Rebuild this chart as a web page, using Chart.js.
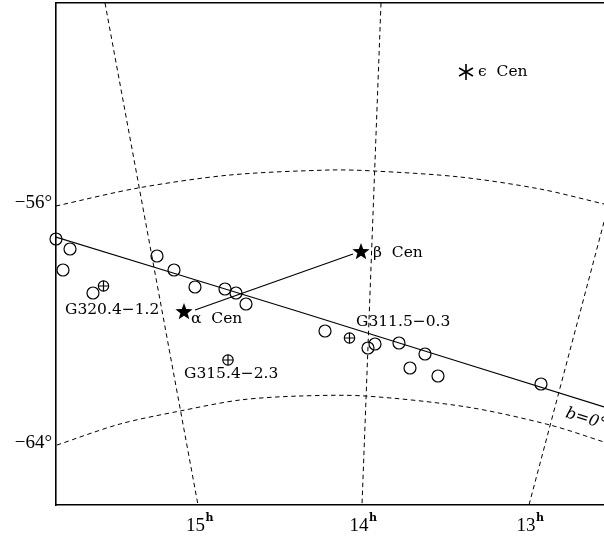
<!DOCTYPE html>
<html><head><meta charset="utf-8">
<style>html,body{margin:0;padding:0;background:#fff}canvas{display:block}</style>
<script src="https://cdn.jsdelivr.net/npm/chart.js@4"></script></head>
<body><canvas id="c" width="604" height="536"></canvas>
<script>
// Plot-plane coordinates (projection has no linear axis)
const remnantX=[56,70,63,93,157,174,195,225,236,246,325,368,375,399,425,410,438,541];
const remnantY=[239,249,270,293,256,270,287,289,293,304,331,348,344,343,354,368,376,384];
const crossedX=[103.5,228,349.5];
const crossedY=[286,360,338];
const brightX=[184,361];
const brightY=[312,252];
const epsX=[466];
const epsY=[72];
const planeX=[56,300,604];
const planeY=[237,312,407];
const linkX=[195,353];
const linkY=[310,254];
const dec56X=[56,138,230,330,374,460,540,604];
const dec56Y=[206,188,175,170,171,177,189,204];
const dec64X=[57,120,180,240,300,365,467,550,604];
const dec64Y=[445,424,411,400,396,396,407,425,442];
const ra15X=[105,198];
const ra15Y=[3,505];
const ra14X=[381,362];
const ra14Y=[3,505];
const ra13X=[604,529];
const ra13Y=[222,505];
const xTickValues=[195.5,359,526];
const xTickLabels=['15','14','13'];
const yTickValues=[203,443];
const yTickLabels=['−56°','−64°'];
const labelTexts=['G320.4−1.2','α  Cen','β  Cen','ϵ  Cen','G315.4−2.3','G311.5−0.3'];
const labelX=[65,191,373,478,184,356];
const labelY=[310,319,253,72,374,322];

const zip=(xs,ys)=>xs.map((x,i)=>({x,y:ys[i]}));
function star5(r){const s=2*r+2,c=document.createElement('canvas');c.width=c.height=s;const g=c.getContext('2d');
  g.translate(s/2,s/2);g.beginPath();
  for(let i=0;i<10;i++){const a=-Math.PI/2+i*Math.PI/5,q=i%2?r*0.42:r;g.lineTo(q*Math.cos(a),q*Math.sin(a));}
  g.closePath();g.fillStyle='#000';g.fill();return c;}
function aster(r){const s=2*r+2,c=document.createElement('canvas');c.width=c.height=s;const g=c.getContext('2d');
  g.translate(s/2,s/2);g.strokeStyle='#000';g.lineWidth=1.6;g.beginPath();
  for(let i=0;i<3;i++){const a=Math.PI/2+i*Math.PI/3;g.moveTo(r*Math.cos(a),r*Math.sin(a));g.lineTo(-r*Math.cos(a),-r*Math.sin(a));}
  g.stroke();return c;}
const solid=(xs,ys)=>({type:'line',data:zip(xs,ys),borderColor:'#000',borderWidth:1.2,pointRadius:0,tension:0.15,fill:false});
const dash=(xs,ys,t)=>({type:'line',data:zip(xs,ys),borderColor:'#000',borderWidth:1,borderDash:[4.5,3.5],pointRadius:0,tension:t,fill:false});
const pts=(xs,ys,style,r,extra)=>Object.assign({type:'scatter',data:zip(xs,ys),pointStyle:style,pointRadius:r,pointBorderColor:'#000',pointBackgroundColor:'rgba(0,0,0,0)',pointBorderWidth:1.2,clip:false,showLine:false},extra||{});
const noPad=s=>{s.paddingLeft=s.paddingRight=s.paddingTop=s.paddingBottom=0;};

const textPlugin={id:'labels',afterDatasetsDraw(ch){
  const {ctx,scales:{x,y},chartArea:a}=ch;ctx.save();ctx.fillStyle='#000';ctx.font='15.5px "DejaVu Serif"';ctx.textBaseline='middle';ctx.textAlign='left';
  labelTexts.forEach((t,i)=>ctx.fillText(t,x.getPixelForValue(labelX[i]),y.getPixelForValue(labelY[i])));
  ctx.font='bold 11px "DejaVu Serif"';
  xTickValues.forEach(v=>ctx.fillText('h',x.getPixelForValue(v)+10,a.bottom+13));
  ctx.beginPath();ctx.rect(a.left,a.top,a.right-a.left,a.bottom-a.top);ctx.clip();
  ctx.translate(x.getPixelForValue(566),y.getPixelForValue(413));ctx.rotate(17*Math.PI/180);
  ctx.font='italic 16px "DejaVu Serif"';ctx.fillText('b=0°',0,0);
  ctx.restore();}};

new Chart(document.getElementById('c'),{
  data:{datasets:[
    solid(planeX,planeY),solid(linkX,linkY),
    dash(dec56X,dec56Y,0.3),dash(dec64X,dec64Y,0.3),
    dash(ra15X,ra15Y,0),dash(ra14X,ra14Y,0),dash(ra13X,ra13Y,0),
    pts(remnantX,remnantY,'circle',6),
    pts(crossedX,crossedY,'circle',5.2),
    pts(crossedX,crossedY,'cross',5.2),
    pts(brightX,brightY,star5(9),9),
    pts(epsX,epsY,aster(8),8)
  ]},
  plugins:[textPlugin],
  options:{
    responsive:false,animation:false,devicePixelRatio:1,
    layout:{padding:{top:3,right:0,left:0,bottom:0},autoPadding:false},
    plugins:{legend:{display:false},tooltip:{enabled:false},title:{display:false}},
    scales:{
      x:{type:'linear',position:'bottom',min:56,max:604,
        afterBuildTicks:s=>{s.ticks=xTickValues.map(v=>({value:v}));},
        afterFit:s=>{s.height=31;noPad(s);},
        grid:{drawOnChartArea:false,drawTicks:false},border:{color:'#000',width:1.6},
        ticks:{autoSkip:false,maxRotation:0,padding:10,color:'#000',font:{family:'"Liberation Serif"',size:19},callback:(v,i)=>xTickLabels[i]}},
      xTop:{type:'linear',position:'top',min:56,max:604,
        afterFit:s=>{s.height=0;noPad(s);},
        grid:{drawOnChartArea:false,drawTicks:false},border:{color:'#000',width:1.6},ticks:{display:false}},
      y:{type:'linear',position:'left',min:3,max:505,reverse:true,
        afterBuildTicks:s=>{s.ticks=yTickValues.map(v=>({value:v}));},
        afterFit:s=>{s.width=56;noPad(s);},
        grid:{drawOnChartArea:false,drawTicks:false},border:{color:'#000',width:1.6},
        ticks:{autoSkip:false,padding:4,color:'#000',font:{family:'"Liberation Serif"',size:19},callback:(v,i)=>yTickLabels[i]}}
    }
  }
});
</script></body></html>
